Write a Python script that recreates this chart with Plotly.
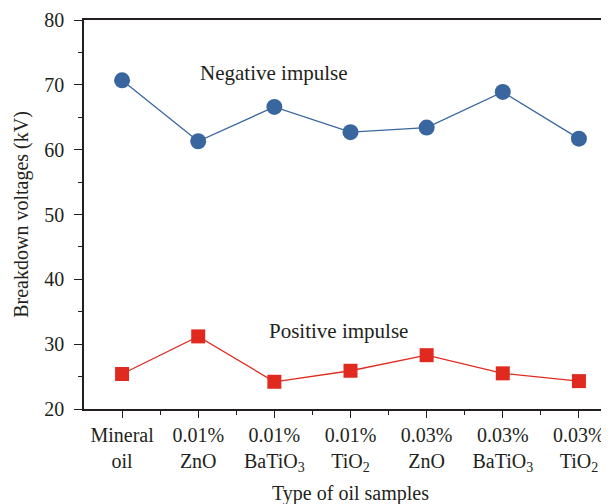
import plotly.graph_objects as go

categories = ["Mineral<br>oil", "0.01%<br>ZnO", "0.01%<br>BaTiO<sub>3</sub>", "0.01%<br>TiO<sub>2</sub>",
              "0.03%<br>ZnO", "0.03%<br>BaTiO<sub>3</sub>", "0.03%<br>TiO<sub>2</sub>"]
negative = [70.7, 61.3, 66.6, 62.7, 63.4, 68.9, 61.7]
positive = [25.4, 31.2, 24.2, 25.9, 28.3, 25.5, 24.3]
y_ticks = [20, 30, 40, 50, 60, 70, 80]

xs = list(range(len(categories)))
FONT = "Liberation Serif"
INK = "#231f20"

fig = go.Figure()
fig.add_trace(go.Scatter(x=xs, y=negative, mode="lines+markers",
                         line=dict(color="#3A66A0", width=1.3),
                         marker=dict(symbol="circle", size=16, color="#3A66A0"),
                         showlegend=False))
fig.add_trace(go.Scatter(x=xs, y=positive, mode="lines+markers",
                         line=dict(color="#E02A1F", width=1.3),
                         marker=dict(symbol="square", size=14, color="#E02A1F"),
                         showlegend=False))

fig.add_annotation(x=2, y=71.8, text="Negative impulse", showarrow=False,
                   font=dict(family=FONT, size=21, color=INK))
fig.add_annotation(x=2.84, y=32.1, text="Positive impulse", showarrow=False,
                   font=dict(family=FONT, size=21, color=INK))

fig.update_layout(
    width=609, height=504,
    margin=dict(l=76, r=0, t=12, b=103),
    plot_bgcolor="white", paper_bgcolor="white",
    font=dict(family=FONT, color=INK),
)
fig.update_xaxes(
    range=[-0.5, 6.5], tickmode="array", tickvals=xs, ticktext=categories,
    showgrid=False, zeroline=False,
    showline=True, linecolor=INK, linewidth=1.6, mirror=True,
    ticks="outside", ticklen=7, tickwidth=1.3, tickcolor=INK,
    tickfont=dict(family=FONT, size=20, color=INK),
    minor=dict(tickvals=[i + 0.5 for i in xs[:-1]], ticks="outside", ticklen=4,
               tickwidth=1.3, tickcolor=INK),
    title=dict(text="Type of oil samples", font=dict(family=FONT, size=20, color=INK), standoff=12),
)
fig.update_yaxes(
    range=[20, 80], tickmode="array", tickvals=y_ticks,
    showgrid=False, zeroline=False,
    showline=True, linecolor=INK, linewidth=1.6,
    ticks="outside", ticklen=8, tickwidth=1.3, tickcolor=INK,
    ticklabelstandoff=6,
    tickfont=dict(family=FONT, size=20, color=INK),
    minor=dict(tickvals=[25, 35, 45, 55, 65, 75], ticks="outside", ticklen=4,
               tickwidth=1.3, tickcolor=INK),
    title=dict(text="Breakdown voltages (kV)", font=dict(family=FONT, size=20, color=INK), standoff=10),
)

fig.write_html("out.html")
